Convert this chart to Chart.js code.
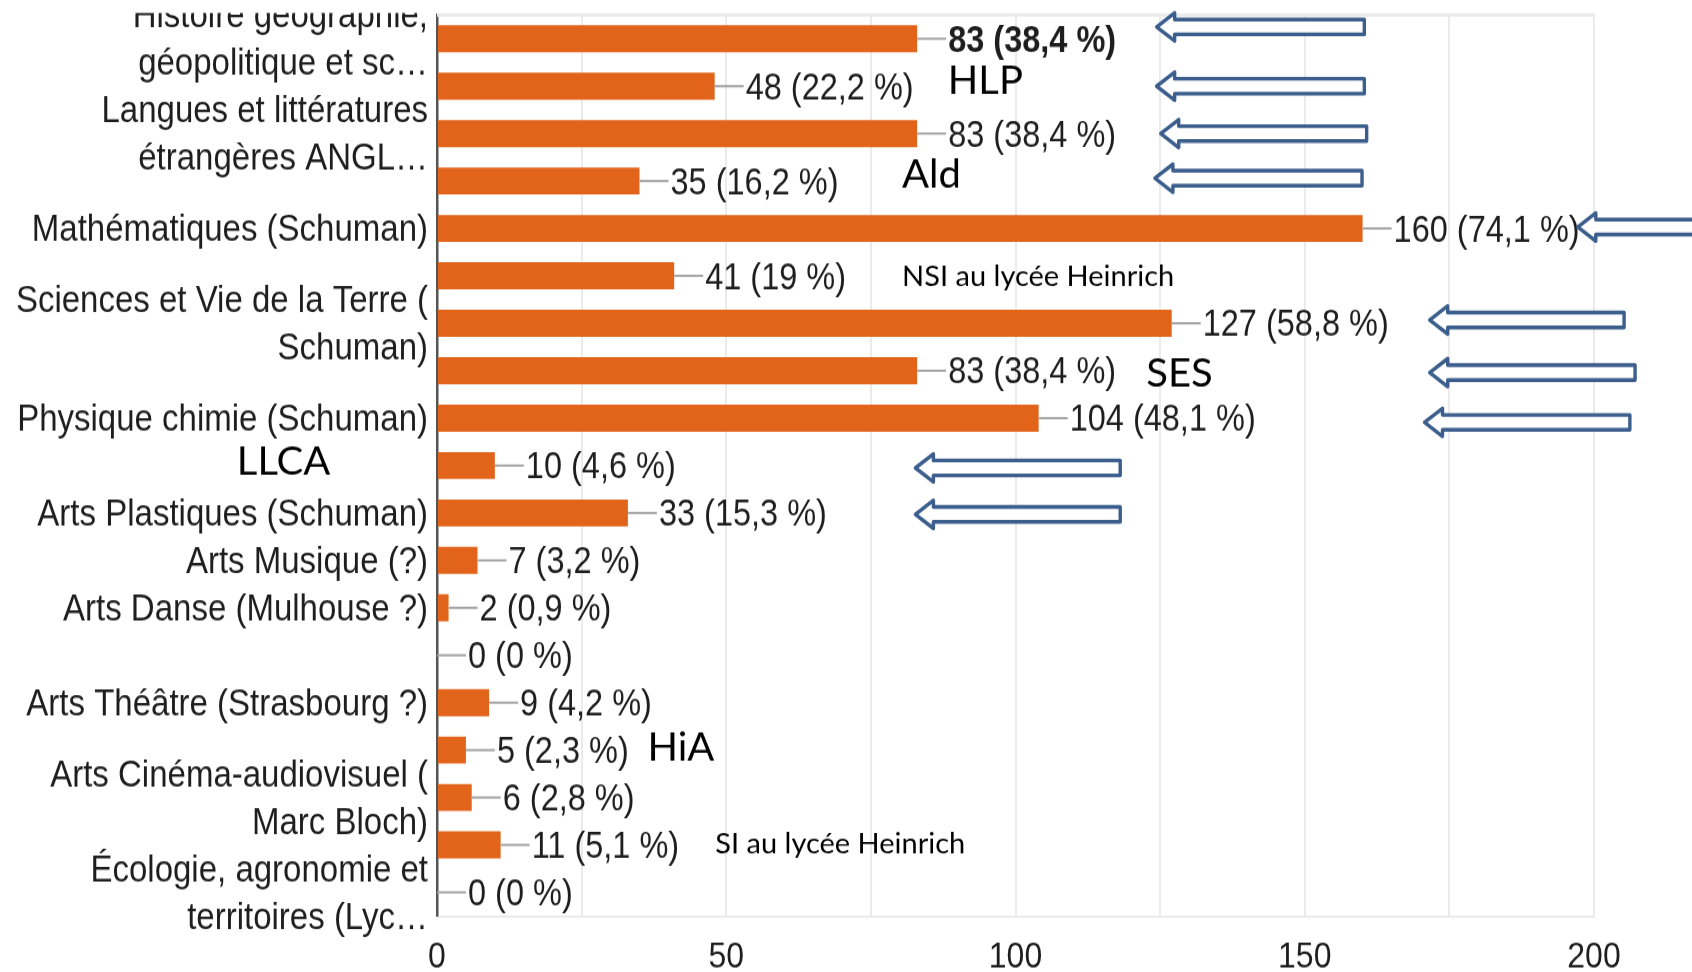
<!DOCTYPE html>
<html>
<head>
<meta charset="utf-8">
<script src="https://cdn.jsdelivr.net/npm/chart.js@4.4.0/dist/chart.umd.min.js"></script>
<style>
  html, body { margin: 0; padding: 0; background: #fff; overflow: hidden; }
  #wrap { width: 1692px; height: 972px; }
  /* la capture d'origine est étirée verticalement */
  #chart { width: 1692px; height: 860px; transform: scaleY(1.1302); transform-origin: 0 0; }
</style>
</head>
<body>
<div id="wrap"><canvas id="chart" width="1692" height="860"></canvas></div>
<script>
// --- Données ---
const categories = [
  ['Histoire géographie,', 'géopolitique et sc…'],
  '',
  ['Langues et littératures', 'étrangères ANGL…'],
  '',
  'Mathématiques (Schuman)',
  '',
  ['Sciences et Vie de la Terre (', 'Schuman)'],
  '',
  'Physique chimie (Schuman)',
  '',
  'Arts Plastiques (Schuman)',
  'Arts Musique (?)',
  'Arts Danse (Mulhouse ?)',
  '',
  'Arts Théâtre (Strasbourg ?)',
  '',
  ['Arts Cinéma-audiovisuel (', 'Marc Bloch)'],
  '',
  ['Écologie, agronomie et', 'territoires (Lyc…']
];
const counts = [83, 48, 83, 35, 160, 41, 127, 83, 104, 10, 33, 7, 2, 0, 9, 5, 6, 11, 0];
const percents = ['38,4', '22,2', '38,4', '16,2', '74,1', '19', '58,8', '38,4', '48,1', '4,6', '15,3', '3,2', '0,9', '0', '4,2', '2,3', '2,8', '5,1', '0'];
const xTickLabels = [0, 50, 100, 150, 200];
const boldRow = 0;

// --- Annotations ajoutées à la main (coordonnées en valeur / rang) ---
const notes = [
  { text: 'HLP', x: 88.3, row: 0.89, big: true },
  { text: 'Ald', x: 80.4, row: 2.87, big: true },
  { text: 'NSI au lycée Heinrich', x: 80.4, row: 5.01, big: false },
  { text: 'SES', x: 122.6, row: 7.06, big: true },
  { text: 'LLCA', x: -34.6, row: 8.91, big: true },
  { text: 'HiA', x: 36.4, row: 14.95, big: true },
  { text: 'SI au lycée Heinrich', x: 48.1, row: 16.99, big: false }
];
const arrows = [
  { tip: 124.4, tail: 160.3, row: -0.25 },
  { tip: 124.4, tail: 160.3, row: 1.0 },
  { tip: 125.1, tail: 160.7, row: 2.0 },
  { tip: 124.1, tail: 159.9, row: 2.94 },
  { tip: 197.2, tail: 225, row: 3.97 },
  { tip: 171.6, tail: 205.2, row: 5.93 },
  { tip: 171.6, tail: 207.1, row: 7.04 },
  { tip: 170.7, tail: 206.2, row: 8.09 },
  { tip: 82.7, tail: 118.1, row: 9.05 },
  { tip: 82.7, tail: 118.1, row: 10.03 }
];

const STRETCH = 972 / 860;
const FONT = '"Liberation Sans", Arial, sans-serif';
const TEXT = '#1e1e1e';

// étiquettes "83 (38,4 %)" avec trait gris
const valueLabels = {
  id: 'valueLabels',
  afterDatasetsDraw(chart) {
    const ctx = chart.ctx;
    const meta = chart.getDatasetMeta(0);
    ctx.save();
    meta.data.forEach((bar, i) => {
      const x = bar.x, y = bar.y;
      ctx.strokeStyle = '#a3a3a3';
      ctx.lineWidth = 2;
      ctx.beginPath();
      ctx.moveTo(x, y);
      ctx.lineTo(x + 29, y);
      ctx.stroke();
      ctx.font = (i === boldRow ? 'bold ' : '') + '32.5px ' + FONT;
      ctx.fillStyle = TEXT;
      ctx.textBaseline = 'middle';
      ctx.textAlign = 'left';
      ctx.fillText(`${counts[i]} (${percents[i]} %)`, x + 31, y + 2.5);
    });
    ctx.restore();
  }
};

// cadre du haut, flèches et notes
const overlay = {
  id: 'overlay',
  beforeDatasetsDraw(chart) {
    const { ctx, chartArea } = chart;
    ctx.save();
    ctx.strokeStyle = '#ebebeb';
    ctx.lineWidth = 3;
    ctx.beginPath();
    ctx.moveTo(chartArea.left, chartArea.top);
    ctx.lineTo(chartArea.right + 1, chartArea.top);
    ctx.stroke();
    ctx.restore();
  },
  afterDraw(chart) {
    const { ctx, chartArea, scales } = chart;
    const xs = scales.x, ys = scales.y;
    ctx.save();
    // haut de la première étiquette coupé comme sur la capture
    ctx.fillStyle = '#fff';
    ctx.fillRect(0, 0, chartArea.left - 4, 11.5);

    arrows.forEach(a => {
      const x0 = xs.getPixelForValue(a.tip);
      const x1 = xs.getPixelForValue(a.tail);
      const y = ys.getPixelForValue(a.row);
      const hl = 18, hh = 12.4, sh = 6.6;
      ctx.beginPath();
      ctx.moveTo(x0, y);
      ctx.lineTo(x0 + hl, y - hh);
      ctx.lineTo(x0 + hl, y - sh);
      ctx.lineTo(x1, y - sh);
      ctx.lineTo(x1, y + sh);
      ctx.lineTo(x0 + hl, y + sh);
      ctx.lineTo(x0 + hl, y + hh);
      ctx.closePath();
      ctx.fillStyle = '#fff';
      ctx.fill();
      ctx.lineJoin = 'round';
      ctx.lineWidth = 3.4;
      ctx.strokeStyle = '#3b5e8c';
      ctx.stroke();
    });

    // les notes ne sont pas étirées
    ctx.fillStyle = '#000';
    ctx.textBaseline = 'middle';
    ctx.textAlign = 'left';
    notes.forEach(n => {
      ctx.save();
      ctx.translate(xs.getPixelForValue(n.x), ys.getPixelForValue(n.row));
      ctx.scale(1, 1 / STRETCH);
      ctx.font = (n.big ? '40px' : '29px') + ' Lato, "Open Sans", sans-serif';
      ctx.fillText(n.text, 0, 0);
      ctx.restore();
    });
    ctx.restore();
  }
};

const chart = new Chart(document.getElementById('chart'), {
  type: 'bar',
  data: {
    labels: categories,
    datasets: [{
      data: counts,
      backgroundColor: '#e2631a',
      borderWidth: 0,
      barPercentage: 0.57,
      categoryPercentage: 1
    }]
  },
  options: {
    indexAxis: 'y',
    responsive: false,
    animation: false,
    devicePixelRatio: 1,
    layout: { padding: { top: 13.3, right: 98, left: 0, bottom: 0 } },
    plugins: { legend: { display: false }, tooltip: { enabled: false } },
    scales: {
      x: {
        min: 0,
        max: 200,
        afterFit: s => { s.height = 49.5; s.paddingLeft = 0; s.paddingRight = 0; },
        ticks: {
          stepSize: 25,
          autoSkip: false,
          maxRotation: 0,
          padding: 17.5,
          color: TEXT,
          font: { family: FONT, size: 32 },
          callback: v => xTickLabels.includes(v) ? String(v) : ''
        },
        grid: { color: '#ebebeb', lineWidth: 2, drawTicks: false },
        border: { color: '#ebebeb', width: 2 }
      },
      y: {
        afterFit: s => { s.width = 437; s.paddingTop = 0; s.paddingBottom = 0; },
        ticks: {
          autoSkip: false,
          padding: 9,
          labelOffset: 2,
          color: TEXT,
          font: { family: FONT, size: 33, lineHeight: 1.273 }
        },
        grid: { display: false, drawTicks: false },
        border: { color: '#555', width: 2.5 }
      }
    }
  },
  plugins: [valueLabels, overlay]
});
</script>
</body>
</html>
